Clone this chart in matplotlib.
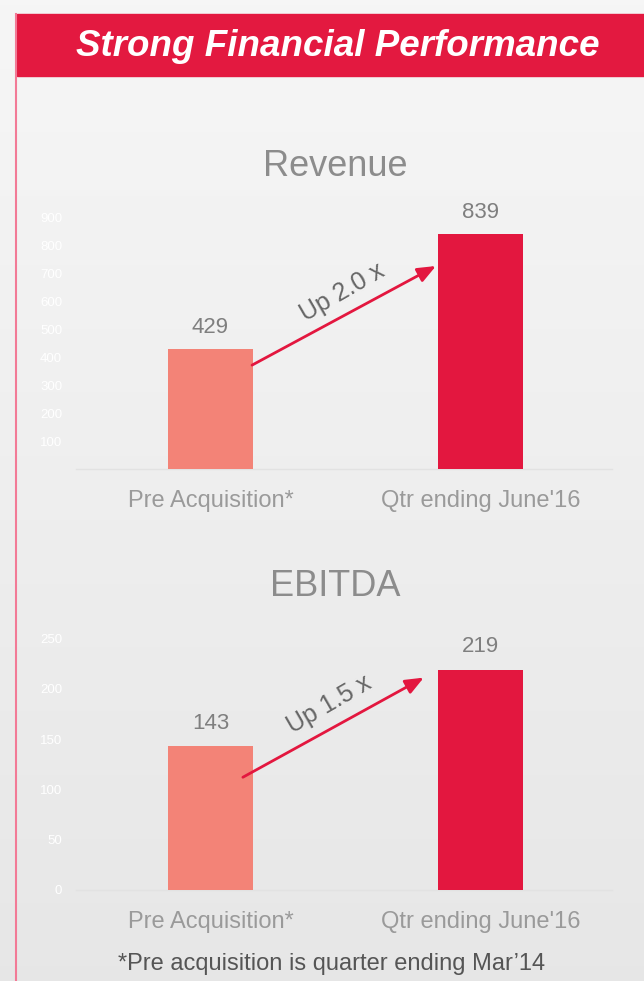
import numpy as np
import matplotlib
matplotlib.use('Agg')
import matplotlib.pyplot as plt
from matplotlib.patches import Rectangle

plt.rcParams['font.family'] = ['Liberation Sans', 'DejaVu Sans']

# data
categories = ['Pre Acquisition*', "Qtr ending June'16"]
revenue = [429, 839]
ebitda = [143, 219]
revenue_growth = 'Up 2.0 x'
ebitda_growth = 'Up 1.5 x'
revenue_ticks = [100, 200, 300, 400, 500, 600, 700, 800, 900]
ebitda_ticks = [0, 50, 100, 150, 200, 250]

W, H = 644, 981
fig = plt.figure(figsize=(W / 100, H / 100), dpi=100)

# background: light grey gradient
bg = fig.add_axes([0, 0, 1, 1], zorder=-10)
grad = np.linspace(0.965, 0.905, 200).reshape(-1, 1)
bg.imshow(np.dstack([grad, grad, grad]), aspect='auto', extent=[0, 1, 0, 1])
bg.set_xlim(0, 1)
bg.set_ylim(0, 1)
bg.axis('off')

# header band + left border line
fig.patches.append(Rectangle((17 / W, 1 - 76 / H), 1 - 17 / W, 62 / H,
                             transform=fig.transFigure, color='#e31940', zorder=1))
fig.add_artist(plt.Line2D([16 / W, 16 / W], [0, 1 - 14 / H], transform=fig.transFigure,
                          color='#f27a96', lw=1.5))
fig.text(338 / W, 1 - 47 / H, 'Strong Financial Performance', ha='center', va='center',
         color='white', fontsize=26.5, fontweight='bold', fontstyle='italic')

bar_colors = ['#f38377', '#e3173f']
width = 0.315


def panel(bottom_px, top_px, vals, ymax, ticks, growth, arrow_pts, text_pos):
    ax = fig.add_axes([76 / W, 1 - bottom_px / H, 536 / W, (bottom_px - top_px) / H])
    ax.set_facecolor('none')
    x = np.arange(len(vals))
    ax.bar(x, vals, width=width, color=bar_colors, zorder=3)
    ax.set_xlim(-0.498, 1.487)
    ax.set_ylim(0, ymax)
    for s in ['top', 'right', 'left']:
        ax.spines[s].set_visible(False)
    ax.spines['bottom'].set_color('#e2e2e2')
    ax.spines['bottom'].set_linewidth(1)
    ax.set_yticks(ticks)
    ax.tick_params(axis='y', length=0, labelsize=9.5, labelcolor='white', pad=10)
    ax.set_xticks(x)
    ax.set_xticklabels(categories, fontsize=17, color='#9a9a9a')
    ax.tick_params(axis='x', length=0, pad=15)
    for xi, v in zip(x, vals):
        ax.text(xi, v + ymax * 0.04, str(v), ha='center', va='bottom',
                fontsize=16, color='#7f7f7f')
    ax.annotate('', xy=arrow_pts[1], xytext=arrow_pts[0],
                arrowprops=dict(arrowstyle='-|>,head_length=1.1,head_width=0.45',
                                color='#e3173f', lw=2, shrinkA=0, shrinkB=0), zorder=4)
    ax.text(text_pos[0], text_pos[1], growth, rotation=30, rotation_mode='anchor',
            ha='center', va='center', fontsize=18, color='#666666')
    return ax


ax1 = panel(469, 189, revenue, 1000, revenue_ticks, revenue_growth,
            [(0.154, 371), (0.835, 725)], (0.49, 630))
ax2 = panel(890, 588, ebitda, 300, ebitda_ticks, ebitda_growth,
            [(0.12, 112), (0.79, 211)], (0.44, 184))

fig.text(335 / W, 1 - 167 / H, 'Revenue', ha='center', va='center', fontsize=26, color='#8c8c8c')
fig.text(335 / W, 1 - 587 / H, 'EBITDA', ha='center', va='center', fontsize=26, color='#8c8c8c')
fig.text(332 / W, 1 - 964 / H, '*Pre acquisition is quarter ending Mar\u201914', ha='center',
         va='center', fontsize=17, color='#555555')

fig.savefig('out.png', dpi=100)
